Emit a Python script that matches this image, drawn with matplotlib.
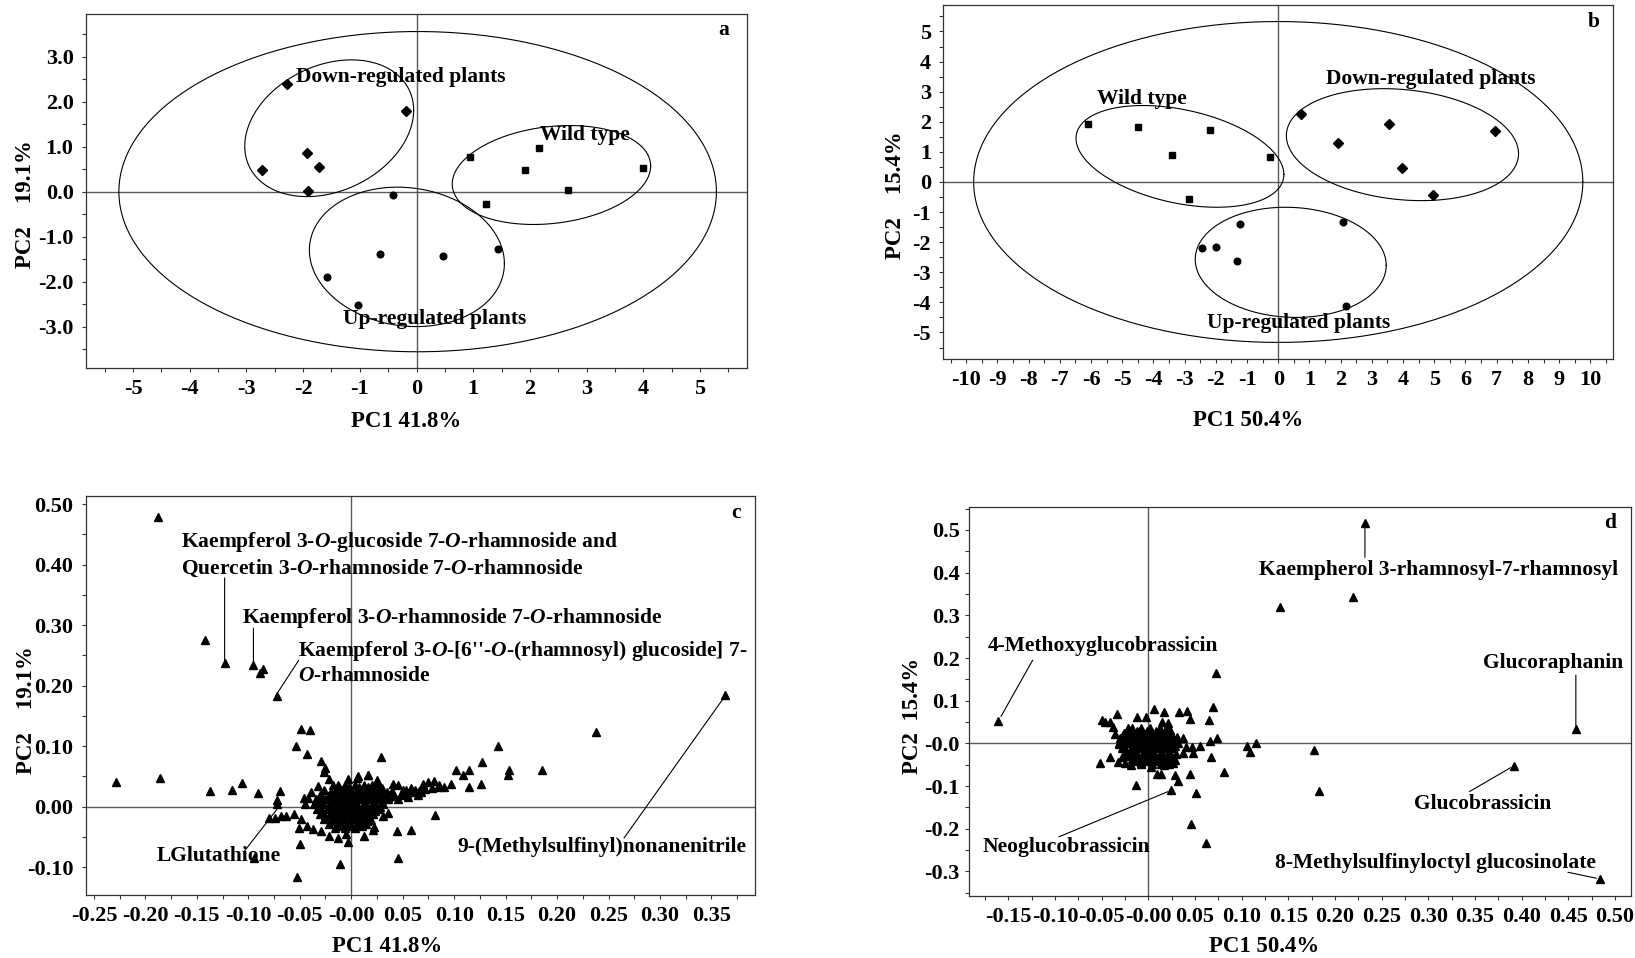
import numpy as np
import matplotlib
matplotlib.use("Agg")
import matplotlib.pyplot as plt
from matplotlib.ticker import MultipleLocator, FuncFormatter

plt.rcParams["font.family"] = ["Liberation Serif", "DejaVu Serif"]
plt.rcParams["font.weight"] = "bold"
plt.rcParams["mathtext.fontset"] = "custom"
plt.rcParams["mathtext.it"] = "Liberation Serif:italic:bold"
plt.rcParams["mathtext.rm"] = "Liberation Serif:bold"

FS = 15.5     # annotations
FS_T = 16     # tick labels
FS_L = 16.5   # axis labels

# ---- panel a: scores, PC1 41.8% / PC2 19.1%
a_down_x = [-2.28, -0.19, -1.93, -1.72, -2.73, -1.92]
a_down_y = [2.40, 1.79, 0.87, 0.54, 0.49, 0.01]
a_wild_x = [0.95, 2.16, 1.92, 3.99, 2.68, 1.23]
a_wild_y = [0.77, 0.97, 0.48, 0.52, 0.04, -0.27]
a_up_x = [-0.41, -0.64, 0.47, 1.43, -1.58, -1.04]
a_up_y = [-0.07, -1.38, -1.43, -1.28, -1.90, -2.52]
# ellipses: centre x, centre y, half width, half height, y shift of rightmost point
a_ellipses = [(0.02, 0.0, 5.27, 3.56, 0.0), (-1.54, 1.41, 1.49, 1.52, 0.40),
              (2.38, 0.37, 1.75, 1.10, 0.20), (-0.17, -1.45, 1.72, 1.55, -0.15)]

# ---- panel b: scores, PC1 50.4% / PC2 15.4%
b_wild_x = [-6.09, -4.48, -2.18, -3.40, -0.27, -2.86]
b_wild_y = [1.91, 1.83, 1.72, 0.90, 0.83, -0.58]
b_down_x = [0.73, 3.55, 6.94, 1.91, 3.98, 4.96]
b_down_y = [2.27, 1.93, 1.70, 1.31, 0.47, -0.42]
b_up_x = [-1.22, 2.06, -2.45, -2.00, -1.33, 2.16]
b_up_y = [-1.39, -1.34, -2.20, -2.16, -2.63, -4.12]
b_ellipses = [(0.0, 0.0, 9.76, 5.33, 0.0), (-3.15, 0.85, 3.33, 1.69, -0.60),
              (3.98, 1.24, 3.72, 1.86, -0.30), (0.40, -2.67, 3.06, 1.83, -0.10)]

# ---- panel c: loadings
c_out_x = [-0.188, -0.142, -0.123, -0.095, -0.089, -0.086, -0.072, 0.363, 0.238,
           -0.229, -0.186, -0.137, -0.116, -0.106, -0.091, -0.069, -0.072, -0.072,
           -0.049, -0.040, -0.054, -0.043, -0.029, -0.025, -0.026, 0.029, 0.016, 0.006,
           0.143, 0.127, 0.102, 0.114, 0.109, 0.153, 0.152, 0.185, 0.126, 0.114, 0.080,
           0.081, 0.097, 0.090, 0.085, 0.045, 0.044, 0.058, -0.011, -0.053, -0.050,
           -0.094, -0.003, -0.080, -0.074]
c_out_y = [0.479, 0.275, 0.237, 0.234, 0.221, 0.228, 0.183, 0.185, 0.123,
           0.041, 0.048, 0.026, 0.028, 0.039, 0.022, 0.026, 0.011, 0.005,
           0.128, 0.126, 0.101, 0.087, 0.075, 0.064, 0.057, 0.082, 0.052, 0.047,
           0.101, 0.074, 0.060, 0.060, 0.053, 0.060, 0.052, 0.060, 0.038, 0.033, 0.043,
           -0.014, 0.037, 0.033, 0.036, -0.085, -0.040, -0.038, -0.095, -0.116, -0.061,
           -0.085, -0.059, -0.018, -0.018]
c_mid_x = [-0.068, -0.063, -0.056, -0.049, -0.051, -0.043, -0.037, -0.029, -0.022,
           -0.013, -0.005, 0.012, 0.021, 0.022, 0.031, 0.036, 0.019, -0.046, -0.042,
           -0.045, -0.039, -0.032, -0.022, -0.013, -0.003, 0.007, 0.016, 0.026, 0.041,
           0.045, 0.053, 0.030, 0.036, 0.042, 0.048, 0.054, 0.060, 0.066, 0.072, 0.078,
           0.084, 0.040, 0.050, 0.058, 0.045, 0.055, 0.065, 0.070, 0.075, 0.030, 0.035,
           0.025, 0.062, 0.068]
c_mid_y = [-0.016, -0.016, -0.012, -0.021, -0.036, -0.032, -0.037, -0.041, -0.049,
           -0.052, -0.046, -0.048, -0.039, -0.033, -0.016, -0.011, -0.022, 0.015, 0.014,
           0.005, 0.025, 0.034, 0.046, 0.036, 0.045, 0.050, 0.052, 0.039, 0.038,
           0.036, 0.027, 0.012, 0.016, 0.018, 0.020, 0.022, 0.024, 0.026, 0.029, 0.031,
           0.033, 0.026, 0.028, 0.030, 0.012, 0.016, 0.020, 0.037, 0.040, 0.030, 0.024,
           0.044, 0.028, 0.024]
c_core_x = [-0.018, -0.006, 0.004, 0.012, 0.020,
            -0.026, -0.015, -0.008, 0.000, 0.008, 0.017, 0.026,
            -0.030, -0.022, -0.012, -0.004, 0.004, 0.012, 0.021, 0.030,
            -0.034, -0.025, -0.016, -0.008, 0.000, 0.009, 0.018, 0.027, 0.036,
            -0.036, -0.027, -0.018, -0.010, -0.002, 0.006, 0.014, 0.022, 0.031,
            -0.033, -0.024, -0.015, -0.007, 0.002, 0.010, 0.018, 0.026,
            -0.030, -0.021, -0.012, -0.004, 0.005, 0.013, 0.021,
            -0.026, -0.017, -0.008, 0.001, 0.010, 0.018,
            -0.022, -0.012, -0.003, 0.007, 0.014,
            -0.016, -0.006, 0.004]
c_core_y = [0.035, 0.035, 0.035, 0.035, 0.035,
            0.028, 0.028, 0.028, 0.028, 0.028, 0.028, 0.028,
            0.020, 0.020, 0.020, 0.020, 0.020, 0.020, 0.020, 0.020,
            0.012, 0.012, 0.012, 0.012, 0.012, 0.012, 0.012, 0.012, 0.012,
            0.004, 0.004, 0.004, 0.004, 0.004, 0.004, 0.004, 0.004, 0.004,
            -0.004, -0.004, -0.004, -0.004, -0.004, -0.004, -0.004, -0.004,
            -0.012, -0.012, -0.012, -0.012, -0.012, -0.012, -0.012,
            -0.020, -0.020, -0.020, -0.020, -0.020, -0.020,
            -0.028, -0.028, -0.028, -0.028, -0.028,
            -0.036, -0.036, -0.036]
c_core2_x = [-0.012, -0.002, 0.008, 0.016,
             -0.020, -0.011, -0.003, 0.005, 0.013, 0.022,
             -0.028, -0.018, -0.010, -0.001, 0.007, 0.015, 0.024, 0.033,
             -0.030, -0.021, -0.012, -0.004, 0.004, 0.013, 0.022, 0.030,
             -0.031, -0.022, -0.014, -0.006, 0.002, 0.010, 0.019, 0.028,
             -0.028, -0.019, -0.011, -0.003, 0.006, 0.014, 0.023,
             -0.025, -0.016, -0.008, 0.001, 0.009, 0.017,
             -0.020, -0.011, -0.002, 0.007, 0.015,
             -0.010, 0.000, 0.010]
c_core2_y = [0.032, 0.032, 0.032, 0.032,
             0.024, 0.024, 0.024, 0.024, 0.024, 0.024,
             0.016, 0.016, 0.016, 0.016, 0.016, 0.016, 0.016, 0.016,
             0.008, 0.008, 0.008, 0.008, 0.008, 0.008, 0.008, 0.008,
             0.000, 0.000, 0.000, 0.000, 0.000, 0.000, 0.000, 0.000,
             -0.008, -0.008, -0.008, -0.008, -0.008, -0.008, -0.008,
             -0.016, -0.016, -0.016, -0.016, -0.016, -0.016,
             -0.024, -0.024, -0.024, -0.024, -0.024,
             -0.032, -0.032, -0.032]

# ---- panel d: loadings
d_out_x = [0.232, 0.219, 0.141, 0.0725, -0.161, 0.458, 0.392, 0.484, 0.177, 0.183,
           0.106, 0.109, 0.115, 0.081, 0.074, 0.069, 0.065, 0.067, 0.066, 0.046, 0.062,
           0.051, 0.024, -0.013, 0.045, 0.028, 0.032, 0.009, 0.013]
d_out_y = [0.516, 0.344, 0.319, 0.164, 0.053, 0.033, -0.052, -0.318, -0.016, -0.112,
           -0.005, -0.020, 0.000, -0.066, 0.012, 0.086, 0.055, -0.033, 0.006, -0.189, -0.234,
           -0.117, -0.109, -0.098, -0.072, -0.074, -0.088, -0.072, -0.072]
d_mid_x = [-0.052, -0.041, -0.028, -0.031, -0.050, -0.046, -0.041, -0.034, -0.012,
           -0.003, 0.006, 0.017, 0.033, 0.041, 0.045, -0.038, -0.036, -0.027, -0.022,
           0.015, 0.021, 0.023, 0.031, 0.037, 0.040, 0.047, 0.048, 0.055, 0.037, 0.028,
           0.026, 0.017, 0.015, -0.019, -0.008, 0.003, -0.033, -0.025]
d_mid_y = [-0.047, -0.031, -0.031, -0.002, 0.055, 0.051, 0.051, 0.068, 0.062,
           0.062, 0.080, 0.073, 0.074, 0.075, 0.056, 0.039, 0.023, 0.020, 0.035,
           0.051, 0.047, 0.031, 0.016, 0.012, -0.008, -0.008, -0.022, -0.005, -0.023, -0.039,
           -0.047, -0.051, -0.044, -0.051, -0.047, -0.055, -0.043, -0.047]
d_core_x = [-0.018, -0.008, 0.002, 0.012, 0.020,
            -0.026, -0.016, -0.006, 0.004, 0.014, 0.024,
            -0.030, -0.021, -0.012, -0.003, 0.006, 0.015, 0.025,
            -0.031, -0.022, -0.013, -0.004, 0.005, 0.014, 0.023, 0.032,
            -0.028, -0.019, -0.010, -0.001, 0.008, 0.017, 0.026,
            -0.024, -0.015, -0.006, 0.003, 0.012, 0.021, 0.030,
            -0.018, -0.009, 0.000, 0.009, 0.018, 0.026,
            -0.008, 0.004, 0.014, 0.022]
d_core_y = [0.036, 0.036, 0.036, 0.036, 0.036,
            0.024, 0.024, 0.024, 0.024, 0.024, 0.024,
            0.012, 0.012, 0.012, 0.012, 0.012, 0.012, 0.012,
            0.000, 0.000, 0.000, 0.000, 0.000, 0.000, 0.000, 0.000,
            -0.012, -0.012, -0.012, -0.012, -0.012, -0.012, -0.012,
            -0.024, -0.024, -0.024, -0.024, -0.024, -0.024, -0.024,
            -0.036, -0.036, -0.036, -0.036, -0.036, -0.036,
            -0.048, -0.048, -0.048, -0.048]
d_core2_x = [-0.022, -0.012, -0.002, 0.008, 0.018,
             -0.027, -0.017, -0.008, 0.001, 0.010, 0.020,
             -0.028, -0.018, -0.009, 0.000, 0.010, 0.019, 0.028,
             -0.027, -0.017, -0.008, 0.001, 0.010, 0.019, 0.028,
             -0.024, -0.014, -0.005, 0.004, 0.013, 0.022,
             -0.020, -0.011, -0.002, 0.007, 0.016, 0.024,
             -0.013, -0.003, 0.008, 0.018]
d_core2_y = [0.030, 0.030, 0.030, 0.030, 0.030,
             0.018, 0.018, 0.018, 0.018, 0.018, 0.018,
             0.006, 0.006, 0.006, 0.006, 0.006, 0.006, 0.006,
             -0.006, -0.006, -0.006, -0.006, -0.006, -0.006, -0.006,
             -0.018, -0.018, -0.018, -0.018, -0.018, -0.018,
             -0.030, -0.030, -0.030, -0.030, -0.030, -0.030,
             -0.042, -0.042, -0.042, -0.042]

# annotation texts: label, text pos, leader line start, leader line end
c_notes = [
    ("Kaempferol 3-$\\mathit{O}$-glucoside 7-$\\mathit{O}$-rhamnoside and\n"
     "Quercetin 3-$\\mathit{O}$-rhamnoside 7-$\\mathit{O}$-rhamnoside",
     (-0.165, 0.417), (-0.123, 0.378), (-0.123, 0.240)),
    ("Kaempferol 3-$\\mathit{O}$-rhamnoside 7-$\\mathit{O}$-rhamnoside",
     (-0.106, 0.3126), (-0.095, 0.295), (-0.095, 0.236)),
    ("Kaempferol 3-$\\mathit{O}$-[6''-$\\mathit{O}$-(rhamnosyl) glucoside] 7-\n"
     "$\\mathit{O}$-rhamnoside",
     (-0.052, 0.238), (-0.051, 0.242), (-0.072, 0.187)),
    ("LGlutathione", (-0.189, -0.082), (-0.104, -0.074), (-0.072, -0.004)),
    ("9-(Methylsulfinyl)nonanenitrile", (0.103, -0.066), (0.265, -0.052), (0.362, 0.180)),
]
d_notes = [
    ("Kaempherol 3-rhamnosyl-7-rhamnosyl", (0.119, 0.406), (0.232, 0.436), (0.232, 0.510)),
    ("4-Methoxyglucobrassicin", (-0.172, 0.229), (-0.124, 0.195), (-0.158, 0.063)),
    ("Glucoraphanin", (0.359, 0.188), (0.458, 0.160), (0.458, 0.041)),
    ("Glucobrassicin", (0.285, -0.141), (0.344, -0.113), (0.388, -0.057)),
    ("8-Methylsulfinyloctyl glucosinolate", (0.1355, -0.281), (0.4495, -0.302), (0.480, -0.316)),
    ("Neoglucobrassicin", (-0.178, -0.242), (-0.096, -0.219), (0.021, -0.113)),
]

fig = plt.figure(figsize=(16.35, 9.58), dpi=100)


def style(ax, xlim, ylim, xmaj, xmin, ymaj, ymin, xfmt, yfmt, ypad=6):
    ax.set_xlim(*xlim)
    ax.set_ylim(*ylim)
    ax.xaxis.set_major_locator(MultipleLocator(xmaj))
    ax.xaxis.set_minor_locator(MultipleLocator(xmin))
    ax.yaxis.set_major_locator(MultipleLocator(ymaj))
    ax.yaxis.set_minor_locator(MultipleLocator(ymin))
    ax.xaxis.set_major_formatter(FuncFormatter(xfmt))
    ax.yaxis.set_major_formatter(FuncFormatter(yfmt))
    ax.tick_params(which="both", direction="out", length=3, width=0.8, color="0.2")
    ax.tick_params(axis="x", labelsize=FS_T, pad=5)
    ax.tick_params(axis="y", labelsize=FS_T, pad=ypad)
    for s in ax.spines.values():
        s.set_linewidth(0.9)
        s.set_color("0.2")
    ax.axhline(0, color="0.35", lw=1.0, zorder=1)
    ax.axvline(0, color="0.35", lw=1.0, zorder=1)


def zfmt(dec):
    def f(v, _):
        if abs(v) < 1e-9:
            return "-" + f"{0:.{dec}f}" if dec else "0"
        return f"{v:.{dec}f}"
    return f


def plain(dec):
    return lambda v, _: f"{v:.{dec}f}" if abs(v) > 1e-9 else f"{0:.{dec}f}"


def draw_ellipses(ax, ells):
    t = np.linspace(0, 2 * np.pi, 300)
    for cx, cy, hw, hh, k in ells:
        m = np.sqrt(hh ** 2 - k ** 2)
        ax.plot(cx + hw * np.cos(t), cy + k * np.cos(t) + m * np.sin(t),
                color="black", lw=0.8, zorder=2)


def labels(ax, xl, xpos, yl, ypos, letter, lpos):
    ax.text(xpos[0], xpos[1], xl, transform=ax.transAxes, ha="center", va="center",
            fontsize=FS_L, fontweight="bold")
    ax.text(ypos[0], ypos[1], yl, transform=ax.transAxes, ha="center", va="center",
            rotation=90, fontsize=FS_L, fontweight="bold")
    ax.text(lpos[0], lpos[1], letter, transform=ax.transAxes, ha="center", va="center",
            fontsize=FS, fontweight="bold")


# panel a
ax = fig.add_axes([0.0526, 0.6159, 0.4043, 0.3695])
style(ax, (-5.83, 5.83), (-3.92, 3.95), 1, 0.5, 1, 0.5, plain(0), plain(1))
draw_ellipses(ax, a_ellipses)
ax.plot(a_down_x, a_down_y, "D", color="black", ms=5.5, zorder=3)
ax.plot(a_wild_x, a_wild_y, "s", color="black", ms=4.5, zorder=3)
ax.plot(a_up_x, a_up_y, "o", color="black", ms=4.8, zorder=3)
ax.text(-2.13, 2.56, "Down-regulated plants", fontsize=FS, va="center")
ax.text(2.17, 1.25, "Wild type", fontsize=FS, va="center")
ax.text(-1.30, -2.84, "Up-regulated plants", fontsize=FS, va="center")
labels(ax, "PC1 41.8%", (0.485, -0.150), "PC2    19.1%", (-0.091, 0.462), "a", (0.965, 0.955))

# panel b
ax = fig.add_axes([0.5770, 0.6253, 0.4096, 0.3695])
style(ax, (-10.73, 10.73), (-5.88, 5.88), 1, 0.5, 1, 0.5, plain(0), plain(0))
draw_ellipses(ax, b_ellipses)
ax.plot(b_down_x, b_down_y, "D", color="black", ms=5.5, zorder=3)
ax.plot(b_wild_x, b_wild_y, "s", color="black", ms=4.5, zorder=3)
ax.plot(b_up_x, b_up_y, "o", color="black", ms=4.8, zorder=3)
ax.text(-5.81, 2.76, "Wild type", fontsize=FS, va="center")
ax.text(1.52, 3.43, "Down-regulated plants", fontsize=FS, va="center")
ax.text(-2.28, -4.67, "Up-regulated plants", fontsize=FS, va="center")
labels(ax, "PC1 50.4%", (0.455, -0.175), "PC2    15.4%", (-0.072, 0.463), "b", (0.971, 0.953))

# panel c
ax = fig.add_axes([0.0524, 0.0658, 0.4095, 0.4168])
style(ax, (-0.258, 0.3925), (-0.146, 0.514), 0.05, 0.025, 0.1, 0.05, zfmt(2), plain(2))
cx = c_out_x + c_mid_x + c_core_x + c_core2_x
cy = c_out_y + c_mid_y + c_core_y + c_core2_y
ax.plot(cx, cy, "^", color="black", ms=5.8, zorder=3)
for txt, tp, p0, p1 in c_notes:
    ax.text(tp[0], tp[1], txt, fontsize=FS, va="center", linespacing=1.2)
    ax.annotate("", xy=p1, xytext=p0, arrowprops=dict(arrowstyle="-", lw=0.8, color="black",
                                                     shrinkA=0, shrinkB=0))
labels(ax, "PC1 41.8%", (0.45, -0.128), "PC2    19.1%", (-0.089, 0.463), "c", (0.971, 0.957))

# panel d
ax = fig.add_axes([0.5928, 0.0650, 0.4047, 0.4054])
style(ax, (-0.192, 0.517), (-0.357, 0.553), 0.05, 0.025, 0.1, 0.05, zfmt(2), zfmt(1), ypad=4)
dx = d_out_x + d_mid_x + d_core_x + d_core2_x
dy = d_out_y + d_mid_y + d_core_y + d_core2_y
ax.plot(dx, dy, "^", color="black", ms=5.8, zorder=3)
for txt, tp, p0, p1 in d_notes:
    ax.text(tp[0], tp[1], txt, fontsize=FS, va="center")
    ax.annotate("", xy=p1, xytext=p0, arrowprops=dict(arrowstyle="-", lw=0.8, color="black",
                                                     shrinkA=0, shrinkB=0))
labels(ax, "PC1 50.4%", (0.445, -0.13), "PC2  15.4%", (-0.086, 0.463), "d", (0.969, 0.959))

fig.savefig("out.png", dpi=100)
